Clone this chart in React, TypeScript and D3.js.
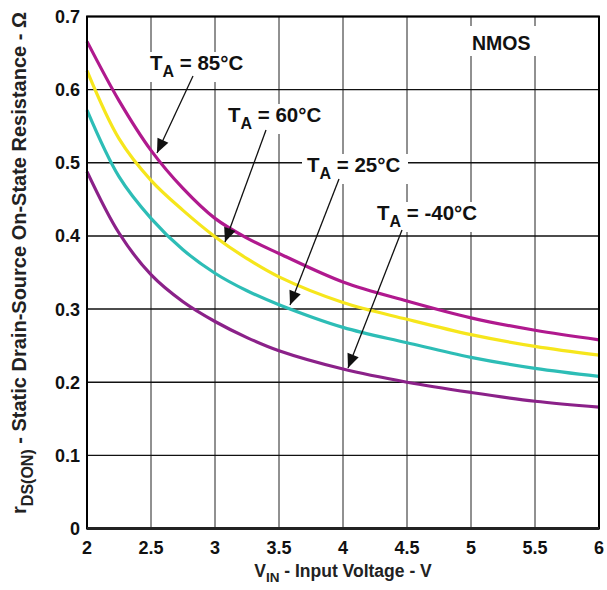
import React from "react";
import * as d3 from "d3";

const vin = [2, 2.25, 2.5, 2.75, 3, 3.25, 3.5, 4, 4.5, 5, 5.5, 6];
const r85 = [0.666, 0.585, 0.517, 0.465, 0.424, 0.397, 0.376, 0.337, 0.311, 0.288, 0.271, 0.258];
const r60 = [0.626, 0.533, 0.476, 0.435, 0.399, 0.369, 0.344, 0.309, 0.286, 0.265, 0.249, 0.237];
const r25 = [0.572, 0.481, 0.424, 0.381, 0.349, 0.325, 0.306, 0.275, 0.254, 0.234, 0.219, 0.208];
const rm40 = [0.488, 0.404, 0.347, 0.31, 0.283, 0.261, 0.243, 0.218, 0.2, 0.186, 0.174, 0.166];
const xTicks = [2, 2.5, 3, 3.5, 4, 4.5, 5, 5.5, 6];
const yTicks = [0, 0.1, 0.2, 0.3, 0.4, 0.5, 0.6, 0.7];

const series = [
  { name: "85", values: r85, color: "#B0198E" },
  { name: "60", values: r60, color: "#F6E61C" },
  { name: "25", values: r25, color: "#2DBDB6" },
  { name: "-40", values: rm40, color: "#8B2189" },
];

const labels = [
  { t: "85°C", x: 150, y: 70, bw: 106, ax1: 193, ay1: 76, ax2: 157, ay2: 153 },
  { t: "60°C", x: 228, y: 122, bw: 106, ax1: 266, ay1: 130, ax2: 225, ay2: 242 },
  { t: "25°C", x: 307, y: 172, bw: 106, ax1: 339, ay1: 179, ax2: 290, ay2: 305 },
  { t: "-40°C", x: 377, y: 220, bw: 112, ax1: 402, ay1: 230, ax2: 348, ay2: 368 },
];

const FONT = "'Liberation Sans', Arial, sans-serif";

export default function App() {
  const L = 87, R = 599, T = 16.5, B = 528.5;
  const x = d3.scaleLinear().domain([2, 6]).range([L, R]);
  const y = d3.scaleLinear().domain([0, 0.7]).range([B, T]);
  const line = d3
    .line<number>()
    .x((_, i) => x(vin[i]))
    .y((d) => y(d))
    .curve(d3.curveCatmullRom.alpha(0.5));

  const arrowHead = (x1: number, y1: number, x2: number, y2: number) => {
    const ang = Math.atan2(y2 - y1, x2 - x1);
    const len = 14, w = 6;
    const bx = x2 - len * Math.cos(ang), by = y2 - len * Math.sin(ang);
    const px = -Math.sin(ang) * w, py = Math.cos(ang) * w;
    return `M${x2},${y2}L${bx + px},${by + py}L${bx - px},${by - py}Z`;
  };

  return (
    <svg width={607} height={590} style={{ position: "absolute", left: 0, top: 0, background: "#fff" }} fontFamily={FONT}>
      <rect x={0} y={0} width={607} height={590} fill="#fff" />
      {xTicks.map((t) => (
        <line key={"gx" + t} x1={x(t)} x2={x(t)} y1={T} y2={B} stroke="#222" strokeWidth={1} />
      ))}
      {yTicks.map((t) => (
        <line key={"gy" + t} x1={L} x2={R} y1={y(t)} y2={y(t)} stroke="#111" strokeWidth={1.4} />
      ))}
      {series.map((s) => (
        <path key={s.name} d={line(s.values) || ""} fill="none" stroke={s.color} strokeWidth={3.2} strokeLinejoin="round" />
      ))}
      <rect x={L} y={T} width={R - L} height={B - T} fill="none" stroke="#000" strokeWidth={2} />
      <line x1={L} x2={R} y1={B} y2={B} stroke="#222" strokeWidth={3} />

      {labels.map((l) => (
        <g key={l.t}>
          <rect x={l.x - 5} y={l.y - 18} width={l.bw} height={30} fill="#fff" />
          <text x={l.x} y={l.y} fontSize={20.5} fontWeight="bold" fill="#111">
            T<tspan fontSize={16} dy={7}>A</tspan>
            <tspan dy={-7}>{" = " + l.t}</tspan>
          </text>
          <line x1={l.ax1} y1={l.ay1} x2={l.ax2} y2={l.ay2} stroke="#111" strokeWidth={1.3} />
          <path d={arrowHead(l.ax1, l.ay1, l.ax2, l.ay2)} fill="#111" />
        </g>
      ))}

      <rect x={468} y={26} width={72} height={30} fill="#fff" />
      <text x={472} y={50} fontSize={19.5} fontWeight="bold" fill="#111">NMOS</text>

      {yTicks.map((t) => (
        <text key={"ty" + t} x={80} y={y(t) + 6.5} textAnchor="end" fontSize={18} fontWeight="bold" fill="#111">
          {t === 0 ? "0" : t.toFixed(1)}
        </text>
      ))}
      {xTicks.map((t) => (
        <text key={"tx" + t} x={x(t)} y={554} textAnchor="middle" fontSize={18} fontWeight="bold" fill="#111">
          {String(t)}
        </text>
      ))}
      <text x={343} y={577} textAnchor="middle" fontSize={17.5} fontWeight="bold" fill="#222">
        V<tspan fontSize={13.5} dy={5}>IN</tspan>
        <tspan dy={-5}> - Input Voltage - V</tspan>
      </text>
      <text transform="translate(26,263) rotate(-90)" textAnchor="middle" fontSize={20} fontWeight="bold" fill="#222">
        r<tspan fontSize={16} dy={7}>DS(ON)</tspan>
        <tspan dy={-7}> - Static Drain-Source On-State Resistance - Ω</tspan>
      </text>
    </svg>
  );
}
